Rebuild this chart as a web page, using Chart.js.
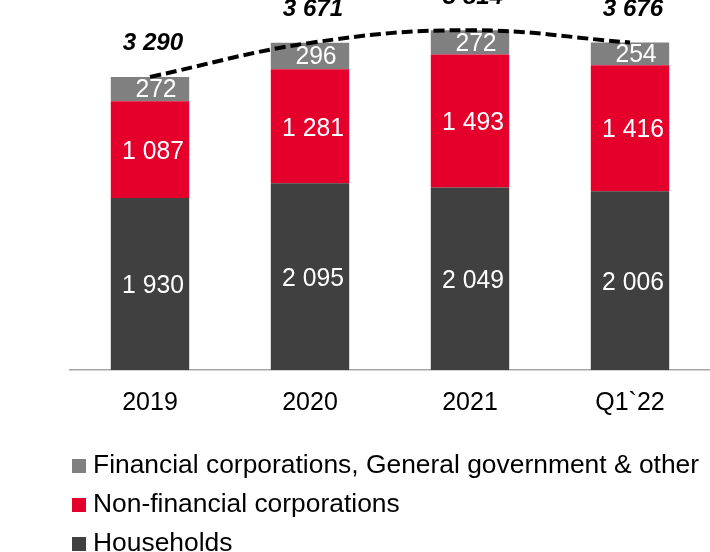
<!DOCTYPE html>
<html>
<head>
<meta charset="utf-8">
<script src="https://cdn.jsdelivr.net/npm/chart.js@4.4.1/dist/chart.umd.min.js"></script>
<style>
  html, body { margin: 0; padding: 0; background: #fff; }
  #wrap { width: 710px; height: 552px; }
</style>
</head>
<body>
<div id="wrap"><canvas id="loans"></canvas></div>
<script>
const categories = ['2019', '2020', '2021', 'Q1`22'];
const households = [1930, 2095, 2049, 2006];
const nonFinancial = [1087, 1281, 1493, 1416];
const financialOther = [272, 296, 272, 254];
const totals = [3290, 3671, 3814, 3676];

const FONT = '"Liberation Sans", Arial, sans-serif';
const fmt = v => String(v).replace(/\B(?=(\d{3})+(?!\d))/g, ' ');

// text drawn with its own horizontal / vertical stretch
function stretchText(ctx, text, x, y, sx, sy) {
    ctx.save();
    ctx.translate(x, y);
    ctx.scale(sx, sy);
    ctx.fillText(text, 0, 0);
    ctx.restore();
}

// labels inside the bar segments, totals above the bars, and the stacked legend
const labelsPlugin = {
    id: 'labelsPlugin',
    afterDatasetsDraw(chart) {
        const ctx = chart.ctx;
        ctx.save();
        ctx.textAlign = 'center';
        ctx.textBaseline = 'middle';
        ctx.fillStyle = '#ffffff';
        ctx.font = '24px ' + FONT;
        chart.data.datasets.forEach((ds, di) => {
            if (ds.type === 'line') return;
            const meta = chart.getDatasetMeta(di);
            meta.data.forEach((bar, i) => {
                let y = (bar.y + bar.base) / 2 + 2;
                let x = bar.x + 3;
                if (ds.label.startsWith('Financial')) { x += 3; y -= 1; }
                stretchText(ctx, fmt(ds.data[i]), x, y, 1.03, 1.1);
            });
        });

        // totals
        const lineMeta = chart.getDatasetMeta(0);
        ctx.fillStyle = '#000000';
        ctx.font = 'italic bold 23px ' + FONT;
        const yScale = chart.scales.y;
        totals.forEach((t, i) => {
            const x = lineMeta.data[i].x + 3;
            const y = yScale.getPixelForValue(t) - 33;
            stretchText(ctx, fmt(t), x, y, 1.05, 1);
        });

        // unit caption, mostly cut off at the top
        ctx.fillStyle = '#7f7f7f';
        ctx.font = '22px ' + FONT;
        ctx.textAlign = 'left';
        ctx.textBaseline = 'bottom';
        ctx.fillText('EURm', 34, 5);

        // legend, one item per row, top series first
        ctx.font = '24px ' + FONT;
        ctx.textBaseline = 'middle';
        const items = chart.data.datasets.filter(d => d.type !== 'line').reverse();
        items.forEach((d, k) => {
            const cy = 466 + k * 39;
            ctx.fillStyle = d.backgroundColor;
            ctx.fillRect(72, cy - 7, 14, 14);
            ctx.fillStyle = '#000000';
            stretchText(ctx, d.label, 93, cy, 1.1, 1.1);
        });
        ctx.restore();
    }
};

const ctxLoans = document.getElementById('loans').getContext('2d');
const loansChart = new Chart(ctxLoans, {
    type: 'bar',
    data: {
        labels: categories,
        datasets: [{
            type: 'line',
            label: 'Total',
            data: totals,
            stack: 'total',
            borderColor: '#000000',
            borderWidth: 4,
            borderDash: [11, 5],
            tension: 0.4,
            pointRadius: 0,
            fill: false
        }, {
            label: 'Households',
            data: households,
            backgroundColor: '#404040'
        }, {
            label: 'Non-financial corporations',
            data: nonFinancial,
            backgroundColor: '#e4002b'
        }, {
            label: 'Financial corporations, General government & other',
            data: financialOther,
            backgroundColor: '#808080'
        }]
    },
    options: {
        responsive: true,
        maintainAspectRatio: false,
        animation: false,
        layout: { padding: { left: 70, right: 0, top: 0, bottom: 0 } },
        datasets: {
            bar: { categoryPercentage: 1, barPercentage: 0.49, stack: 'loans' }
        },
        plugins: {
            legend: { display: false },
            tooltip: { enabled: false }
        },
        scales: {
            x: {
                stacked: true,
                grid: { display: false },
                border: { color: '#a6a6a6', width: 1.5 },
                ticks: {
                    color: '#000000',
                    padding: 10,
                    font: { family: FONT, size: 25 }
                },
                afterFit(scale) { scale.height = 182; }
            },
            y: {
                stacked: true,
                display: false,
                min: 0,
                max: 4153
            }
        }
    },
    plugins: [labelsPlugin]
});
</script>
</body>
</html>
